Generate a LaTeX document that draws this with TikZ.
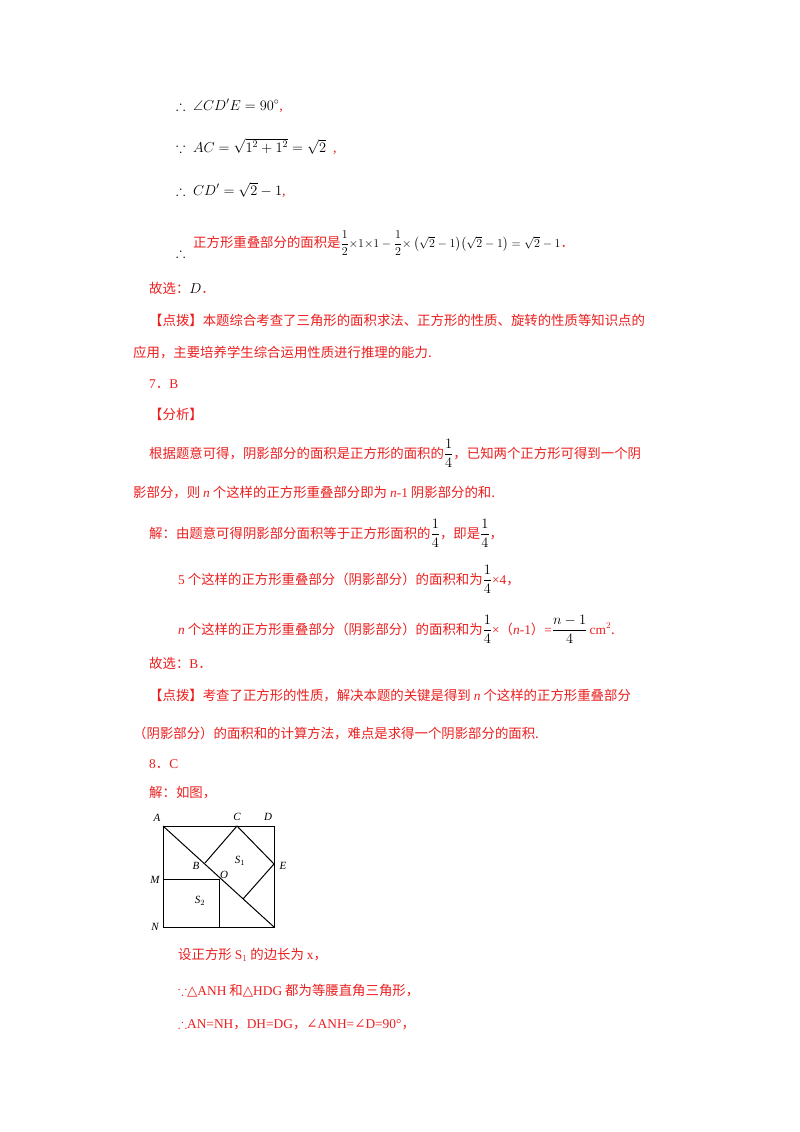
\documentclass[tikz,border=0pt]{standalone}
\usepackage{amsmath,amssymb}
\usepackage{fontspec}
\setmainfont{Liberation Serif}
\newfontfamily\cjk{Noto Sans CJK SC}
\newfontfamily\djsym{DejaVu Serif}
\definecolor{rd}{RGB}{235,30,30}
\begin{document}
\begin{tikzpicture}[x=1pt,y=-1pt,
  t/.style={anchor=base west,inner sep=0pt,font=\fontsize{13.4}{16}\selectfont\cjk,text=rd},
  m/.style={anchor=base west,inner sep=0pt,font=\fontsize{14}{16}\selectfont},
  lb/.style={font=\fontsize{11}{12}\selectfont\itshape,inner sep=1pt},
  ln/.style={line width=1pt}]
\useasboundingbox (0,0) rectangle (800,1132);
\node[m] (l1) at (176,110) {$\therefore\ \angle CD'E=90^\circ$\textcolor{rd}{,}};
\node[m] (l2) at (176,152) {$\because\ AC=\sqrt{1^2+1^2}=\sqrt{2}$\ \ \textcolor{rd}{,}};
\node[m] (l3) at (176,195) {$\therefore\ CD'=\sqrt{2}-1$\textcolor{rd}{,}};
\node[m] (l4a) at (176,257) {$\therefore$};
\node[t] (l4) at (193,247) {正方形重叠部分的面积是\textcolor{black}{\fontsize{12}{14}\selectfont$\dfrac12{\times}1{\times}1-\dfrac12{\times}\left(\sqrt2-1\right)\!\left(\sqrt2-1\right)=\sqrt2-1$}．};
\node[t] (l5) at (149,293) {故选：\textcolor{black}{\rmfamily$D$}．};
\node[t] (l6) at (149,325) {【点拨】本题综合考查了三角形的面积求法、正方形的性质、旋转的性质等知识点的};
\node[t] (l7) at (133,357) {应用，主要培养学生综合运用性质进行推理的能力.};
\node[t] (l8) at (149,388) {{\rmfamily 7}．{\rmfamily B}};
\node[t] (l9) at (149,419) {【分析】};
\node[t] (l10) at (149,458) {根据题意可得，阴影部分的面积是正方形的面积的\textcolor{black}{$\dfrac14$}，已知两个正方形可得到一个阴};
\node[t] (l11) at (133,497) {影部分，则 {\rmfamily\itshape n} 个这样的正方形重叠部分即为 {\rmfamily\itshape n}{\rmfamily -1} 阴影部分的和.};
\node[t] (l12) at (149,538) {解：由题意可得阴影部分面积等于正方形面积的\textcolor{black}{$\dfrac14$}，即是\textcolor{black}{$\dfrac14$}，};
\node[t] (l13) at (178,584) {{\rmfamily 5} 个这样的正方形重叠部分（阴影部分）的面积和为\textcolor{black}{$\dfrac14$}{\rmfamily ×4}，};
\node[t] (l14) at (178,634) {{\rmfamily\itshape n} 个这样的正方形重叠部分（阴影部分）的面积和为\textcolor{black}{$\dfrac14$}{\rmfamily ×}（{\rmfamily\itshape n}{\rmfamily -1}）{\rmfamily =\textcolor{black}{$\dfrac{n-1}{4}$}\,cm$^2$}.};
\node[t] (l15) at (149,668) {故选：{\rmfamily B}．};
\node[t] (l16) at (149,700) {【点拨】考查了正方形的性质，解决本题的关键是得到 {\rmfamily\itshape n} 个这样的正方形重叠部分};
\node[t] (l17) at (133,738) {（阴影部分）的面积和的计算方法，难点是求得一个阴影部分的面积.};
\node[t] (l18) at (149,768) {{\rmfamily 8}．{\rmfamily C}};
\node[t] (l19) at (149,797) {解：如图，};
% figure
\coordinate (A) at (163,826); \coordinate (D) at (274,826);
\coordinate (N) at (163,927); \coordinate (H) at (274,927);
\coordinate (C) at (237,826); \coordinate (E) at (274,864);
\coordinate (B) at (205,863); \coordinate (F) at (243,899);
\coordinate (M) at (163,879); \coordinate (O) at (219,879);
\coordinate (G) at (219,927);
\draw[ln] (A) rectangle (H);
\draw[ln] (A) -- (H);
\draw[ln] (B) -- (C) -- (E) -- (F);
\draw[ln] (M) -- (O) -- (G);
\node[lb] (tA) at (157,818) {A};
\node[lb] (tC) at (237,817) {C};
\node[lb] (tD) at (268,817) {D};
\node[lb] (tE) at (283,866) {E};
\node[lb] (tB) at (196,866) {B};
\node[lb] (tO) at (224,875) {O};
\node[lb] (tM) at (155,880) {M};
\node[lb] (tN) at (155,927) {N};
\node[lb] (tS1) at (240,861) {S$_1$};
\node[lb] (tS2) at (200,901) {S$_2$};
\node[t] (l20) at (178,959) {设正方形 {\rmfamily S$_1$} 的边长为 {\rmfamily x}，};
\node[t] (l21) at (178,995) {$\because${\djsym △}{\rmfamily ANH} 和{\djsym △}{\rmfamily HDG} 都为等腰直角三角形，};
\node[t] (l22) at (178,1028) {$\therefore${\rmfamily AN=NH}，{\rmfamily DH=DG}，{\djsym ∠}{\rmfamily ANH=}{\djsym ∠}{\rmfamily D=90°}，};
\end{tikzpicture}
\end{document}
